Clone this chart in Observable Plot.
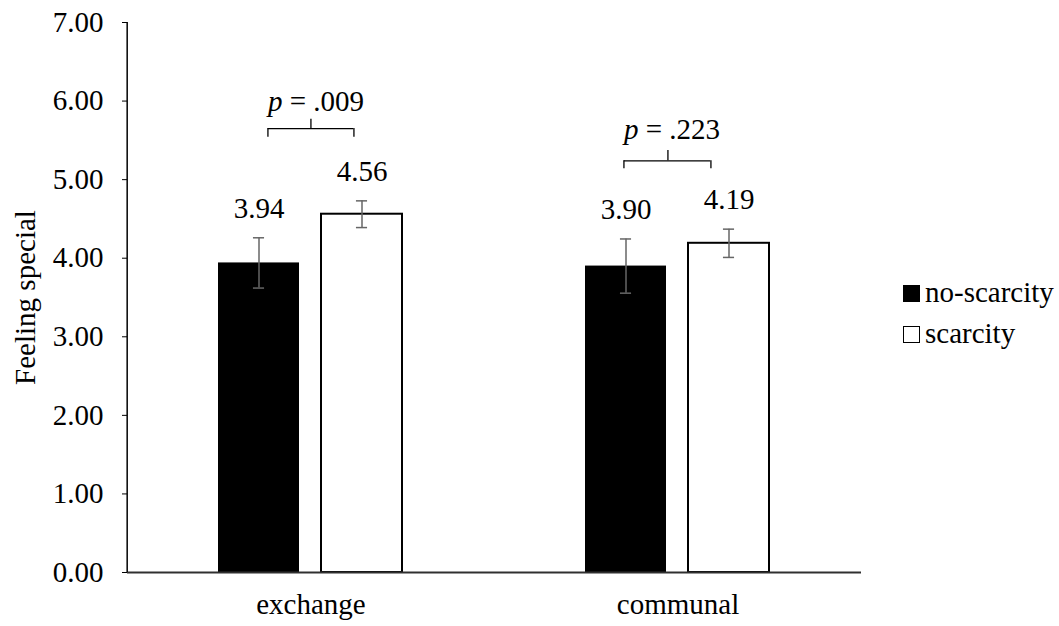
<!DOCTYPE html>
<html>
<head>
<meta charset="utf-8">
<script src="https://cdn.jsdelivr.net/npm/d3@7"></script>
<script src="https://cdn.jsdelivr.net/npm/@observablehq/plot@0.6"></script>
<style>
  html, body { margin: 0; padding: 0; background: white; overflow: hidden; }
  #wrap { position: relative; width: 1059px; height: 626px; font-family: "Liberation Serif", "Times New Roman", serif; }
  .sw { position: absolute; width: 17px; height: 17px; box-sizing: border-box; }
  .lt { position: absolute; font-size: 29px; line-height: 29px; color: black; white-space: nowrap; }
</style>
</head>
<body>
<div id="wrap"></div>
<script>
// ---- data ----
const categories = ["exchange", "communal"];
const conditions = ["no-scarcity", "scarcity"];
const noScarcityMeans = [3.94, 3.90];
const scarcityMeans = [4.56, 4.19];
const noScarcitySE = [0.32, 0.345];
const scarcitySE = [0.17, 0.18];
const yTicks = [0, 1, 2, 3, 4, 5, 6, 7];
const yLabel = "Feeling special";
const pValues = [".009", ".223"];
const pTextY = [5.99, 5.64];
const bracketLineY = [5.65, 5.24];
const bracketEndY = [5.54, 5.14];
const bracketTipY = [5.77, 5.37];

// ---- layout ----
const W = 1059, H = 626, mL = 126, mR = 198, mT = 22, mB = 54;
const facetW = (W - mL - mR) / categories.length;
const pInner = 0.2115, pOuter = 0.875;
const step = facetW / (conditions.length - pInner + 2 * pOuter);
const bw = step * (1 - pInner);
const capInset = (bw - 12) / 2;
const firstBandCenter = step * pOuter + bw / 2;   // local x of first bar centre in a facet
const centerDx = facetW / 2 - firstBandCenter;     // shift from first bar centre to facet centre
const bracketOffsets = [
  {left: -43, right: 43, tip: 0, text: -43},
  {left: -54, right: 33, tip: -10, text: -54}
];
const fs = 29;

const rows = categories.flatMap((c, i) => [
  {category: c, condition: conditions[0], mean: noScarcityMeans[i], se: noScarcitySE[i]},
  {category: c, condition: conditions[1], mean: scarcityMeans[i], se: scarcitySE[i]}
]);
const brackets = categories.map((c, i) => ({
  category: c, condition: conditions[0], p: pValues[i], textY: pTextY[i], lineY: bracketLineY[i], endY: bracketEndY[i], tipY: bracketTipY[i]
}));

const errColor = "#666666";
const marks = [
  Plot.barY(rows.filter(d => d.condition === conditions[0]), {fx: "category", x: "condition", y: "mean", fill: "black"}),
  Plot.barY(rows.filter(d => d.condition === conditions[1]), {fx: "category", x: "condition", y: "mean", fill: "white", stroke: "black", strokeWidth: 2}),
  Plot.ruleY([0], {stroke: "#303030", strokeWidth: 2}),
  Plot.ruleX([{category: categories[0], condition: conditions[0]}], {fx: "category", x: "condition", y1: 0, y2: 7, dx: -firstBandCenter, stroke: "black", strokeWidth: 1.5}),
  Plot.ruleX(rows, {fx: "category", x: "condition", y1: d => d.mean - d.se, y2: d => d.mean + d.se, stroke: errColor, strokeWidth: 1.5}),
  Plot.tickY(rows, {fx: "category", x: "condition", y: d => d.mean + d.se, insetLeft: capInset, insetRight: capInset, stroke: errColor, strokeWidth: 1.5}),
  Plot.tickY(rows, {fx: "category", x: "condition", y: d => d.mean - d.se, insetLeft: capInset, insetRight: capInset, stroke: errColor, strokeWidth: 1.5}),
  Plot.text(rows, {fx: "category", x: "condition", y: d => d.mean + d.se, text: d => d.mean.toFixed(2), dy: -29.5, fontSize: fs, fill: "black"})
];
brackets.forEach((b, i) => {
  const o = bracketOffsets[i];
  const st = {stroke: "black", strokeWidth: 1.3};
  marks.push(
    Plot.ruleY([b], {fx: "category", y: "lineY", insetLeft: facetW / 2 + o.left, insetRight: facetW / 2 - o.right, ...st}),
    Plot.ruleX([b], {fx: "category", x: "condition", y1: "endY", y2: "lineY", dx: centerDx + o.left, ...st}),
    Plot.ruleX([b], {fx: "category", x: "condition", y1: "endY", y2: "lineY", dx: centerDx + o.right, ...st}),
    Plot.ruleX([b], {fx: "category", x: "condition", y1: "lineY", y2: "tipY", dx: centerDx + o.tip, ...st}),
    Plot.text([b], {fx: "category", y: "textY", text: () => "p", fontStyle: "italic", textAnchor: "start", dx: o.text, fontSize: fs, fill: "black"}),
    Plot.text([b], {fx: "category", y: "textY", text: d => "\u00a0= " + d.p, textAnchor: "start", dx: o.text + fs * 0.5, fontSize: fs, fill: "black"})
  );
});

const chart = Plot.plot({
  width: W, height: H,
  marginLeft: mL, marginRight: mR, marginTop: mT, marginBottom: mB,
  style: {fontFamily: "Liberation Serif, Times New Roman, serif", fontSize: fs + "px", background: "white", color: "black", overflow: "visible"},
  fx: {domain: categories, padding: 0, axis: "bottom", label: null, tickSize: 0, tickPadding: 21},
  x: {domain: conditions, paddingInner: pInner, paddingOuter: pOuter, axis: null},
  y: {domain: [0, 7], ticks: yTicks, tickFormat: d => d.toFixed(2), tickSize: 5, tickPadding: 19,
      label: yLabel, labelAnchor: "center", labelOffset: 113, labelArrow: "none"},
  marks
});
const wrap = document.getElementById("wrap");
wrap.appendChild(chart);

// legend
const legendItems = [
  {label: conditions[0], fill: "black", top: 285},
  {label: conditions[1], fill: "white", top: 326}
];
legendItems.forEach(it => {
  const sw = document.createElement("div");
  sw.className = "sw";
  sw.style.left = "903px";
  sw.style.top = it.top + "px";
  sw.style.background = it.fill;
  sw.style.border = "1.5px solid black";
  wrap.appendChild(sw);
  const t = document.createElement("div");
  t.className = "lt";
  t.style.left = "925px";
  t.style.top = (it.top + 17 - 24) + "px";
  t.textContent = it.label;
  wrap.appendChild(t);
});
</script>
</body>
</html>
